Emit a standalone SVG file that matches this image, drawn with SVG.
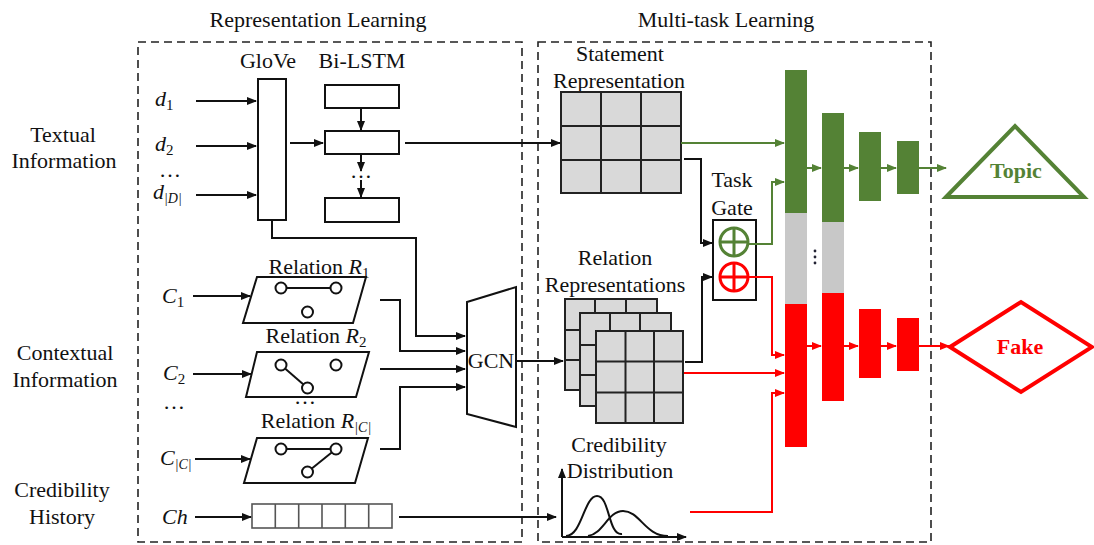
<svg xmlns="http://www.w3.org/2000/svg" width="1094" height="545" viewBox="0 0 1094 545">
<defs>
<marker id="ak" markerUnits="userSpaceOnUse" markerWidth="10" markerHeight="8" refX="9" refY="4" orient="auto"><path d="M0,0 L10,4 L0,8 z" fill="#111"/></marker>
<marker id="ag" markerUnits="userSpaceOnUse" markerWidth="10" markerHeight="8" refX="9" refY="4" orient="auto"><path d="M0,0 L10,4 L0,8 z" fill="#548235"/></marker>
<marker id="ar" markerUnits="userSpaceOnUse" markerWidth="10" markerHeight="8" refX="9" refY="4" orient="auto"><path d="M0,0 L10,4 L0,8 z" fill="#ff0000"/></marker>
</defs>
<style>
text{font-family:"Liberation Serif","Times New Roman",serif;fill:#111;font-size:22px}
.c{text-anchor:middle}
.i{font-style:italic}
.box{fill:#fff;stroke:#111;stroke-width:2}
.dash{fill:none;stroke:#222;stroke-width:1.6;stroke-dasharray:8 5}
.grid{fill:#d9d9d9;stroke:#222;stroke-width:2}
.gl{stroke:#222;stroke-width:2;fill:none}
.k{stroke:#111;stroke-width:2;fill:none}
.g{stroke:#548235;stroke-width:2;fill:none}
.r{stroke:#ff0000;stroke-width:2;fill:none}
.nd{fill:#fff;stroke:#111;stroke-width:2}
.gb{fill:#548235}
.rb{fill:#ff0000}
.gy{fill:#c8c8c8}
</style>
<rect width="1094" height="545" fill="#fff"/>

<g id="frames">
<rect class="dash" x="138" y="42" width="384" height="500"/>
<rect class="dash" x="538" y="42" width="393" height="500"/>
<text class="c" x="318" y="27">Representation Learning</text>
<text class="c" x="726" y="27">Multi-task Learning</text>
</g>

<g id="side-labels">
<text class="c" x="63" y="142">Textual</text>
<text class="c" x="64" y="168">Information</text>
<text class="c" x="65" y="360">Contextual</text>
<text class="c" x="65" y="387">Information</text>
<text class="c" x="62" y="497">Credibility</text>
<text class="c" x="62" y="524">History</text>
</g>

<g id="inputs">
<text x="155" y="106"><tspan class="i">d</tspan><tspan font-size="15" dy="4">1</tspan></text>
<text x="155" y="151"><tspan class="i">d</tspan><tspan font-size="15" dy="4">2</tspan></text>
<text class="c" x="170" y="177" font-size="16">…</text>
<text x="153" y="199"><tspan class="i">d</tspan><tspan font-size="14" class="i" dy="4">|D|</tspan></text>
<text x="162" y="303"><tspan class="i">C</tspan><tspan font-size="15" dy="4">1</tspan></text>
<text x="163" y="380"><tspan class="i">C</tspan><tspan font-size="15" dy="4">2</tspan></text>
<text class="c" x="174" y="409" font-size="18">…</text>
<text x="160" y="465"><tspan class="i">C</tspan><tspan font-size="14" class="i" dy="4">|C|</tspan></text>
<text class="i" x="162" y="524" font-size="23">Ch</text>
</g>

<g id="glove">
<text class="c" x="268" y="68">GloVe</text>
<rect class="box" x="258" y="79" width="28" height="141"/>
</g>

<g id="bilstm">
<text class="c" x="362" y="68">Bi-LSTM</text>
<rect class="box" x="325" y="85" width="74" height="23"/>
<rect class="box" x="325" y="131" width="74" height="23"/>
<rect class="box" x="325" y="198" width="74" height="24"/>
<text class="c" x="361" y="178" font-size="18">…</text>
</g>

<g id="relation1">
<text class="c" x="319" y="274">Relation <tspan class="i">R</tspan><tspan font-size="15" dy="4">1</tspan></text>
<polygon class="box" points="257,277 366,277 353,323 243,323"/>
<line class="k" x1="281" y1="288" x2="336" y2="288"/>
<circle class="nd" cx="281" cy="288" r="5.5"/>
<circle class="nd" cx="336" cy="288" r="5.5"/>
<circle class="nd" cx="307.5" cy="312" r="5.5"/>
</g>

<g id="relation2">
<text class="c" x="316" y="343">Relation <tspan class="i">R</tspan><tspan font-size="15" dy="4">2</tspan></text>
<polygon class="box" points="257,352 369,352 356,397 246,397"/>
<line class="k" x1="281" y1="365" x2="307.5" y2="388"/>
<circle class="nd" cx="281" cy="365" r="5.5"/>
<circle class="nd" cx="336" cy="365" r="5.5"/>
<circle class="nd" cx="307.5" cy="388" r="5.5"/>
<text class="c" x="305" y="404" font-size="16">…</text>
</g>

<g id="relationC">
<text class="c" x="316" y="428">Relation <tspan class="i">R</tspan><tspan font-size="14" class="i" dy="4">|C|</tspan></text>
<polygon class="box" points="257,438 368,438 355,483 244,483"/>
<line class="k" x1="281" y1="449" x2="336" y2="449"/>
<line class="k" x1="336" y1="449" x2="307.5" y2="472"/>
<circle class="nd" cx="281" cy="449" r="5.5"/>
<circle class="nd" cx="336" cy="449" r="5.5"/>
<circle class="nd" cx="307.5" cy="472" r="5.5"/>
</g>

<g id="gcn">
<polygon class="box" points="467,302 516,287 516,427 467,414"/>
<text class="c" x="491" y="368">GCN</text>
</g>

<g id="history-vector">
<rect x="252" y="504" width="140" height="24" fill="#fff" stroke="#555" stroke-width="1.6"/>
<path d="M275.3,504V528M298.7,504V528M322,504V528M345.3,504V528M368.7,504V528" stroke="#555" stroke-width="1.6"/>
</g>

<g id="statement-representation">
<text class="c" x="620" y="61">Statement</text>
<text class="c" x="619" y="88">Representation</text>
<rect class="grid" x="561" y="92" width="120" height="101"/>
<path class="gl" d="M601,92V193M641,92V193M561,126H681M561,160H681"/>
</g>

<g id="relation-representations">
<text class="c" x="615" y="265">Relation</text>
<text class="c" x="615" y="292">Representations</text>
<rect class="grid" x="565" y="299" width="92" height="91"/>
<path class="gl" d="M595,299V390M626,299V390M565,330H657M565,360H657"/>
<rect class="grid" x="580" y="313" width="91" height="93"/>
<path class="gl" d="M610,313V406M640,313V406M580,345H671M580,375H671"/>
<rect class="grid" x="596" y="331" width="87" height="92"/>
<path class="gl" d="M625.5,331V423M654,331V423M596,361.5H683M596,392.5H683"/>
</g>

<g id="credibility-distribution">
<text class="c" x="619" y="452">Credibility</text>
<text class="c" x="620" y="478">Distribution</text>
<line class="k" x1="562" y1="537" x2="562" y2="469" marker-end="url(#ak)"/>
<line class="k" x1="562" y1="537" x2="686" y2="537" marker-end="url(#ak)"/>
<path class="k" d="M566,536 C582,536 584,496 597,496 C610,496 608,536 622,534"/>
<path class="k" d="M588,536 C603,534 608,511 623,511 C640,511 645,536 668,536"/>
</g>

<g id="task-gate">
<text class="c" x="732" y="187">Task</text>
<text class="c" x="732" y="215">Gate</text>
<rect class="box" x="713" y="220" width="43" height="80"/>
<circle cx="734" cy="242" r="14" fill="none" stroke="#548235" stroke-width="3"/>
<path d="M734,228V256M720,242H748" stroke="#548235" stroke-width="3"/>
<circle cx="734" cy="277" r="14" fill="none" stroke="#ff0000" stroke-width="3"/>
<path d="M734,263V291M720,277H748" stroke="#ff0000" stroke-width="3"/>
</g>

<g id="shared-layers">
<rect class="gb" x="785" y="70" width="22" height="143"/>
<rect class="gy" x="785" y="213" width="22" height="91"/>
<rect class="rb" x="785" y="304" width="22" height="143"/>
<rect class="gb" x="822" y="113" width="22" height="109"/>
<rect class="gy" x="822" y="222" width="22" height="71"/>
<rect class="rb" x="822" y="293" width="22" height="108"/>
<circle cx="815" cy="251" r="1.4" fill="#223"/>
<circle cx="815" cy="257" r="1.4" fill="#223"/>
<circle cx="815" cy="263" r="1.4" fill="#223"/>
</g>

<g id="topic-layers">
<rect class="gb" x="859" y="132" width="22" height="69"/>
<rect class="gb" x="897" y="141" width="22" height="53"/>
</g>

<g id="fake-layers">
<rect class="rb" x="859" y="309" width="22" height="69"/>
<rect class="rb" x="897" y="318" width="22" height="53"/>
</g>

<g id="topic">
<polygon points="946,197 1015,126 1084,197" fill="#fff" stroke="#548235" stroke-width="4"/>
<text class="c" x="1016" y="178" font-size="24" font-weight="bold" style="fill:#548235">Topic</text>
</g>

<g id="fake">
<polygon points="950,347 1021,302 1092,347 1021,392" fill="#fff" stroke="#ff0000" stroke-width="4"/>
<text class="c" x="1020" y="354" font-size="24" font-weight="bold" style="fill:#ff0000">Fake</text>
</g>

<g id="connectors">
<line class="k" x1="196" y1="101" x2="256" y2="101" marker-end="url(#ak)"/>
<line class="k" x1="196" y1="146" x2="256" y2="146" marker-end="url(#ak)"/>
<line class="k" x1="196" y1="195" x2="256" y2="195" marker-end="url(#ak)"/>
<line class="k" x1="290" y1="143" x2="323" y2="143" marker-end="url(#ak)"/>
<line class="k" x1="361" y1="108" x2="361" y2="130" marker-end="url(#ak)"/>
<line class="k" x1="361" y1="154" x2="361" y2="171" marker-end="url(#ak)"/>
<line class="k" x1="361" y1="180" x2="361" y2="197" marker-end="url(#ak)"/>
<line class="k" x1="405" y1="143" x2="560" y2="143" marker-end="url(#ak)"/>
<polyline class="k" points="272,220 272,238 416,238 416,336 465,336" marker-end="url(#ak)"/>
<line class="k" x1="193" y1="296" x2="250" y2="296" marker-end="url(#ak)"/>
<line class="k" x1="193" y1="374" x2="251" y2="374" marker-end="url(#ak)"/>
<line class="k" x1="195" y1="459" x2="250" y2="459" marker-end="url(#ak)"/>
<line class="k" x1="195" y1="517" x2="251" y2="517" marker-end="url(#ak)"/>
<polyline class="k" points="380,300 400,300 400,351 465,351" marker-end="url(#ak)"/>
<polyline class="k" points="380,369 465,369" marker-end="url(#ak)"/>
<polyline class="k" points="380,449 400,449 400,387 465,387" marker-end="url(#ak)"/>
<line class="k" x1="516" y1="361" x2="563" y2="361" marker-end="url(#ak)"/>
<line class="k" x1="399" y1="517" x2="556" y2="517" marker-end="url(#ak)"/>
<polyline class="k" points="684,159 701,159 701,243 712,243" marker-end="url(#ak)"/>
<polyline class="k" points="685,362 702,362 702,277 712,277" marker-end="url(#ak)"/>
<line class="g" x1="681" y1="143" x2="784" y2="143" marker-end="url(#ag)"/>
<polyline class="g" points="749,244 772,244 772,182 784,182" marker-end="url(#ag)"/>
<line class="g" x1="807" y1="168" x2="821" y2="168" marker-end="url(#ag)"/>
<line class="g" x1="844" y1="168" x2="858" y2="168" marker-end="url(#ag)"/>
<line class="g" x1="881" y1="168" x2="896" y2="168" marker-end="url(#ag)"/>
<line class="g" x1="919" y1="168" x2="946" y2="168" marker-end="url(#ag)"/>
<polyline class="r" points="749,277 772,277 772,355 784,355" marker-end="url(#ar)"/>
<line class="r" x1="684" y1="373" x2="784" y2="373" marker-end="url(#ar)"/>
<polyline class="r" points="690,512 772,512 772,393 784,393" marker-end="url(#ar)"/>
<line class="r" x1="807" y1="346" x2="821" y2="346" marker-end="url(#ar)"/>
<line class="r" x1="844" y1="346" x2="858" y2="346" marker-end="url(#ar)"/>
<line class="r" x1="881" y1="346" x2="896" y2="346" marker-end="url(#ar)"/>
<line class="r" x1="919" y1="346" x2="949" y2="346" marker-end="url(#ar)"/>
</g>
</svg>
